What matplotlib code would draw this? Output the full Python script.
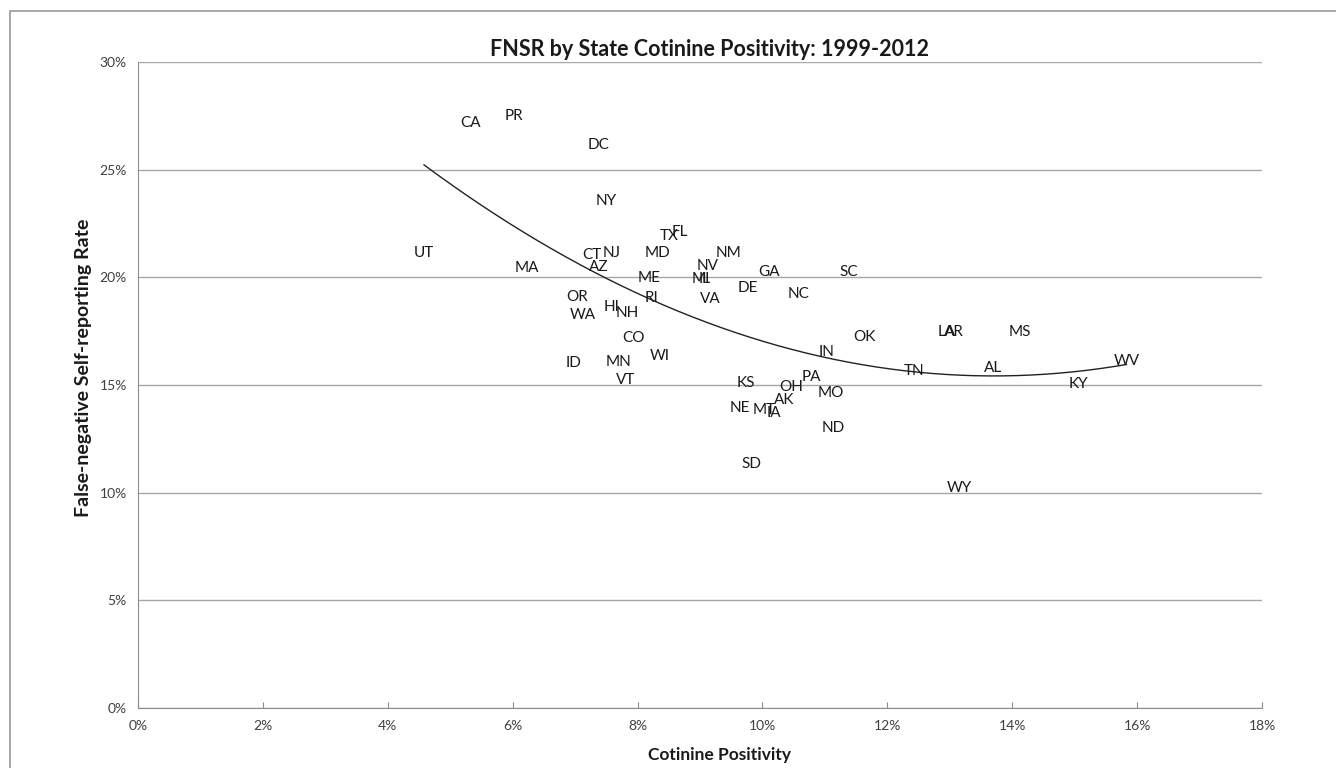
import numpy as np
from matplotlib import pyplot as plt
from matplotlib.patches import Rectangle
from matplotlib.ticker import PercentFormatter

# state labels with cotinine positivity (%) and false-negative self-report rate (%)
states = ['CA', 'PR', 'DC', 'NY', 'TX', 'FL', 'UT', 'CT', 'NJ', 'MD', 'NM', 'MA', 'AZ',
          'NV', 'ME', 'MI', 'IL', 'OR', 'RI', 'VA', 'WA', 'HI', 'NH', 'DE', 'GA', 'SC',
          'NC', 'CO', 'WI', 'ID', 'MN', 'VT', 'OK', 'IN', 'KS', 'PA', 'OH', 'MO', 'AK',
          'NE', 'MT', 'IA', 'ND', 'SD', 'LA', 'AR', 'MS', 'TN', 'AL', 'WV', 'KY', 'WY']
cotinine = [5.33, 6.02, 7.38, 7.50, 8.50, 8.67, 4.58, 7.27, 7.58, 8.32, 9.46, 6.23, 7.38,
            9.13, 8.19, 9.02, 9.07, 7.03, 8.22, 9.17, 7.13, 7.58, 7.83, 9.77, 10.11, 11.38,
            10.58, 7.94, 8.36, 6.97, 7.70, 7.81, 11.63, 11.03, 9.74, 10.78, 10.46, 11.10, 10.35,
            9.63, 10.02, 10.18, 11.14, 9.83, 12.95, 13.07, 14.12, 12.43, 13.69, 15.83, 15.06, 13.15]
fnsr = [27.19, 27.50, 26.13, 23.56, 21.92, 22.12, 21.12, 21.04, 21.15, 21.15, 21.15, 20.42, 20.50,
        20.53, 19.96, 19.91, 19.91, 19.07, 19.06, 18.98, 18.25, 18.61, 18.36, 19.49, 20.27, 20.27,
        19.23, 17.17, 16.35, 16.01, 16.06, 15.23, 17.22, 16.51, 15.11, 15.36, 14.89, 14.65, 14.31,
        13.92, 13.84, 13.69, 12.99, 11.33, 17.45, 17.45, 17.45, 15.67, 15.78, 16.13, 15.05, 10.20]

plt.rcParams['font.family'] = ['Lato', 'DejaVu Sans']

fig = plt.figure(figsize=(13.36, 7.68), dpi=100)
ax = fig.add_axes([138/1336, 1 - 708/768, (1262-138)/1336, (708-62)/768])

# outer chart border
fig.patches.append(Rectangle((10/1336, -0.1), 1.2, 1 - 11/768 + 0.1, transform=fig.transFigure,
                             fill=False, edgecolor='#9a9a9a', linewidth=1.2))

x = np.array(cotinine)
y = np.array(fnsr)
for s, xi, yi in zip(states, x, y):
    ax.text(xi, yi, s, ha='center', va='center', fontsize=11, color='#1a1a1a')

# second order polynomial trendline
coef = np.polyfit(x, y, 2)
xt = np.linspace(x.min(), x.max(), 200)
ax.plot(xt, np.polyval(coef, xt), color='#222222', linewidth=1)

ax.set_xlim(0, 18)
ax.set_ylim(0, 30)
ax.set_xticks(np.arange(0, 19, 2))
ax.set_yticks(np.arange(0, 31, 5))
ax.xaxis.set_major_formatter(PercentFormatter(decimals=0))
ax.yaxis.set_major_formatter(PercentFormatter(decimals=0))
ax.yaxis.grid(True, color='#a6a6a6', linewidth=1)
ax.set_axisbelow(True)
for sp in ['top', 'right']:
    ax.spines[sp].set_visible(False)
for sp in ['left', 'bottom']:
    ax.spines[sp].set_color('#8c8c8c')
ax.tick_params(axis='x', direction='in', length=4, color='#8c8c8c', labelsize=10,
               labelcolor='#404040', pad=9)
ax.tick_params(axis='y', length=0, labelsize=10, labelcolor='#404040', pad=8)

fig.text(84/1336, 1 - 368/768, 'False-negative Self-reporting Rate', rotation=90, ha='center',
         va='center', fontsize=14, fontweight='bold', color='#1a1a1a')
fig.text(720/1336, 1 - 755/768, 'Cotinine Positivity', ha='center', va='center',
         fontsize=12.5, fontweight='bold', color='#1a1a1a')
fig.text(709/1336, 1 - 50/768, 'FNSR by State Cotinine Positivity: 1999-2012', ha='center',
         va='center', fontsize=15.5, fontweight='bold', color='#1a1a1a')

fig.savefig('out.png', dpi=100)
